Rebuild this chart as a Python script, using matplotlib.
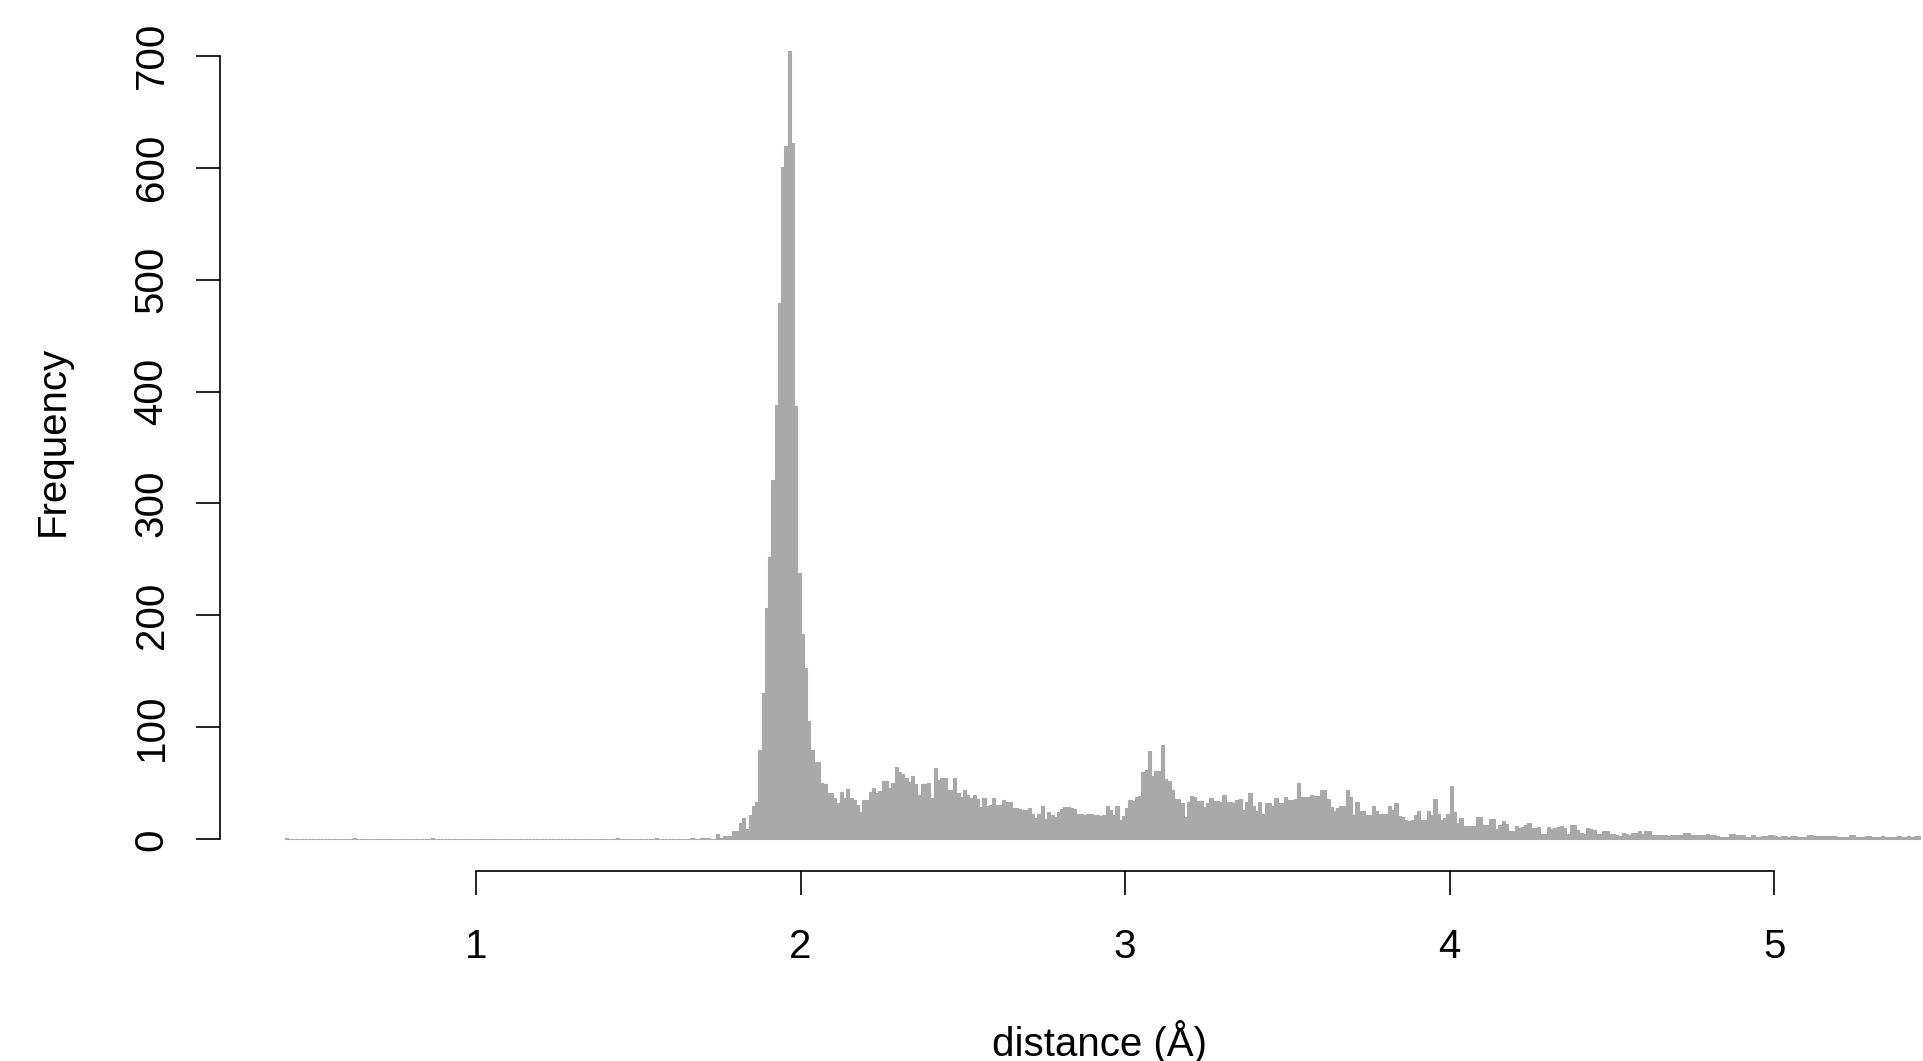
import matplotlib
matplotlib.use("Agg")
import matplotlib.pyplot as plt
import numpy as np

plt.rcParams['font.family'] = ['Liberation Sans', 'DejaVu Sans']

# histogram of distances, bins of 0.01 A
bin_width = 0.01

# isolated counts below 1.6 A
low_bins = [0.41, 0.62, 0.86, 1.43, 1.55]
low_counts = [1, 1, 1, 1, 1]

# counts per bin from 1.60 A upward, one row per 0.1 A
dense_start = 1.60
dense_counts = [
    0, 0, 0, 0, 0, 0, 1, 0, 0, 1,            # 1.60
    1, 1, 0, 0, 5, 1, 3, 3, 3, 7,            # 1.70
    7, 15, 19, 9, 22, 30, 33, 80, 131, 207,  # 1.80
    252, 321, 388, 479, 601, 619, 704, 622, 387, 238,  # 1.90
    183, 153, 106, 80, 69, 69, 50, 49, 41, 41,  # 2.00
    37, 32, 42, 37, 45, 37, 35, 31, 24, 35,  # 2.10
    35, 42, 46, 41, 43, 52, 52, 46, 50, 65,  # 2.20
    60, 58, 55, 51, 57, 49, 40, 49, 49, 50,  # 2.30
    37, 64, 53, 55, 55, 44, 44, 55, 41, 38,  # 2.40
    44, 40, 37, 40, 36, 29, 37, 30, 31, 37,  # 2.50
    31, 31, 35, 33, 33, 28, 28, 27, 26, 26,  # 2.60
    28, 23, 19, 23, 30, 18, 24, 22, 20, 24,  # 2.70
    27, 29, 29, 28, 27, 23, 23, 22, 23, 23,  # 2.80
    22, 22, 21, 22, 30, 26, 22, 30, 17, 21,  # 2.90
    28, 35, 34, 38, 39, 60, 62, 79, 57, 61,  # 3.00
    61, 84, 54, 52, 44, 36, 36, 32, 20, 33,  # 3.10
    39, 38, 34, 34, 29, 32, 37, 34, 34, 33,  # 3.20
    40, 33, 33, 32, 35, 36, 26, 33, 41, 30,  # 3.30
    25, 33, 23, 32, 32, 30, 37, 32, 32, 38,  # 3.40
    35, 35, 36, 50, 38, 38, 38, 40, 39, 39,  # 3.50
    44, 44, 36, 29, 25, 28, 30, 30, 44, 38,  # 3.60
    22, 33, 25, 25, 22, 22, 30, 25, 23, 23,  # 3.70
    23, 30, 26, 32, 21, 20, 17, 16, 17, 22,  # 3.80
    25, 17, 17, 25, 22, 36, 23, 17, 19, 23,  # 3.90
    48, 24, 15, 19, 12, 12, 12, 12, 20, 20,  # 4.00
    13, 13, 18, 18, 9, 13, 16, 14, 7, 7,     # 4.10
    12, 10, 11, 13, 15, 10, 10, 11, 5, 5,    # 4.20
    11, 9, 10, 11, 12, 10, 5, 13, 13, 8,     # 4.30
    6, 5, 10, 9, 8, 5, 5, 7, 7, 5,           # 4.40
    5, 4, 3, 6, 5, 4, 6, 6, 7, 5,            # 4.50
    7, 7, 4, 4, 4, 4, 4, 3, 4, 4,            # 4.60
    4, 4, 6, 6, 4, 4, 4, 4, 4, 5,            # 4.70
    4, 4, 3, 2, 2, 2, 5, 5, 4, 4,            # 4.80
    4, 2, 2, 4, 2, 2, 3, 3, 4, 4,            # 4.90
    3, 2, 3, 3, 2, 3, 3, 2, 2, 2,            # 5.00
    4, 4, 3, 3, 3, 3, 3, 3, 3, 2,            # 5.10
    2, 2, 2, 4, 4, 2, 2, 2, 3, 3,            # 5.20
    2, 2, 2, 3, 2, 2, 2, 2, 3, 2,            # 5.30
    2, 3, 2, 3, 3,                           # 5.40
]

x_ticks = [1, 2, 3, 4, 5]
y_ticks = [0, 100, 200, 300, 400, 500, 600, 700]

# all bins, empty ones included (R draws them as a flat line)
first_bin = low_bins[0]
n_bins = int(round((dense_start - first_bin) / bin_width)) + len(dense_counts)
lefts = first_bin + bin_width * np.arange(n_bins)
counts = np.zeros(n_bins)
for b, c in zip(low_bins, low_counts):
    counts[int(round((b - first_bin) / bin_width))] = c
off = int(round((dense_start - first_bin) / bin_width))
counts[off:] = dense_counts

fig = plt.figure(figsize=(19.24, 10.61), dpi=100)
ax = fig.add_axes([0.11414, 0.17908, 0.91497, 0.80584])

ax.bar(lefts, counts, width=bin_width, align='edge', color='#a9a9a9',
       edgecolor='#a9a9a9', linewidth=0.8)

ax.set_xlim(0.2096, 5.6345)
ax.set_ylim(-28.3, 735.5)

for s in ['top', 'right']:
    ax.spines[s].set_visible(False)
ax.spines['left'].set_bounds(0, 700)
ax.spines['bottom'].set_bounds(1, 5)
ax.spines['left'].set_linewidth(1.2)
ax.spines['bottom'].set_linewidth(1.2)

ax.set_xticks(x_ticks)
ax.set_yticks(y_ticks)
ax.tick_params(axis='both', direction='out', length=17.3, width=1.2,
               labelsize=29, colors='black')
ax.tick_params(axis='x', pad=24)
ax.tick_params(axis='y', pad=18)
plt.setp(ax.get_yticklabels(), rotation=90, va='center')

fig.text(1100 / 1924, 1 - 1055.7 / 1061, 'distance (Å)', fontsize=29,
         ha='center', va='baseline')
fig.text(63.3 / 1924, 1 - 441 / 1061, 'Frequency', fontsize=29,
         rotation=90, rotation_mode='anchor', ha='center', va='baseline')

fig.savefig('out.png', dpi=100)
